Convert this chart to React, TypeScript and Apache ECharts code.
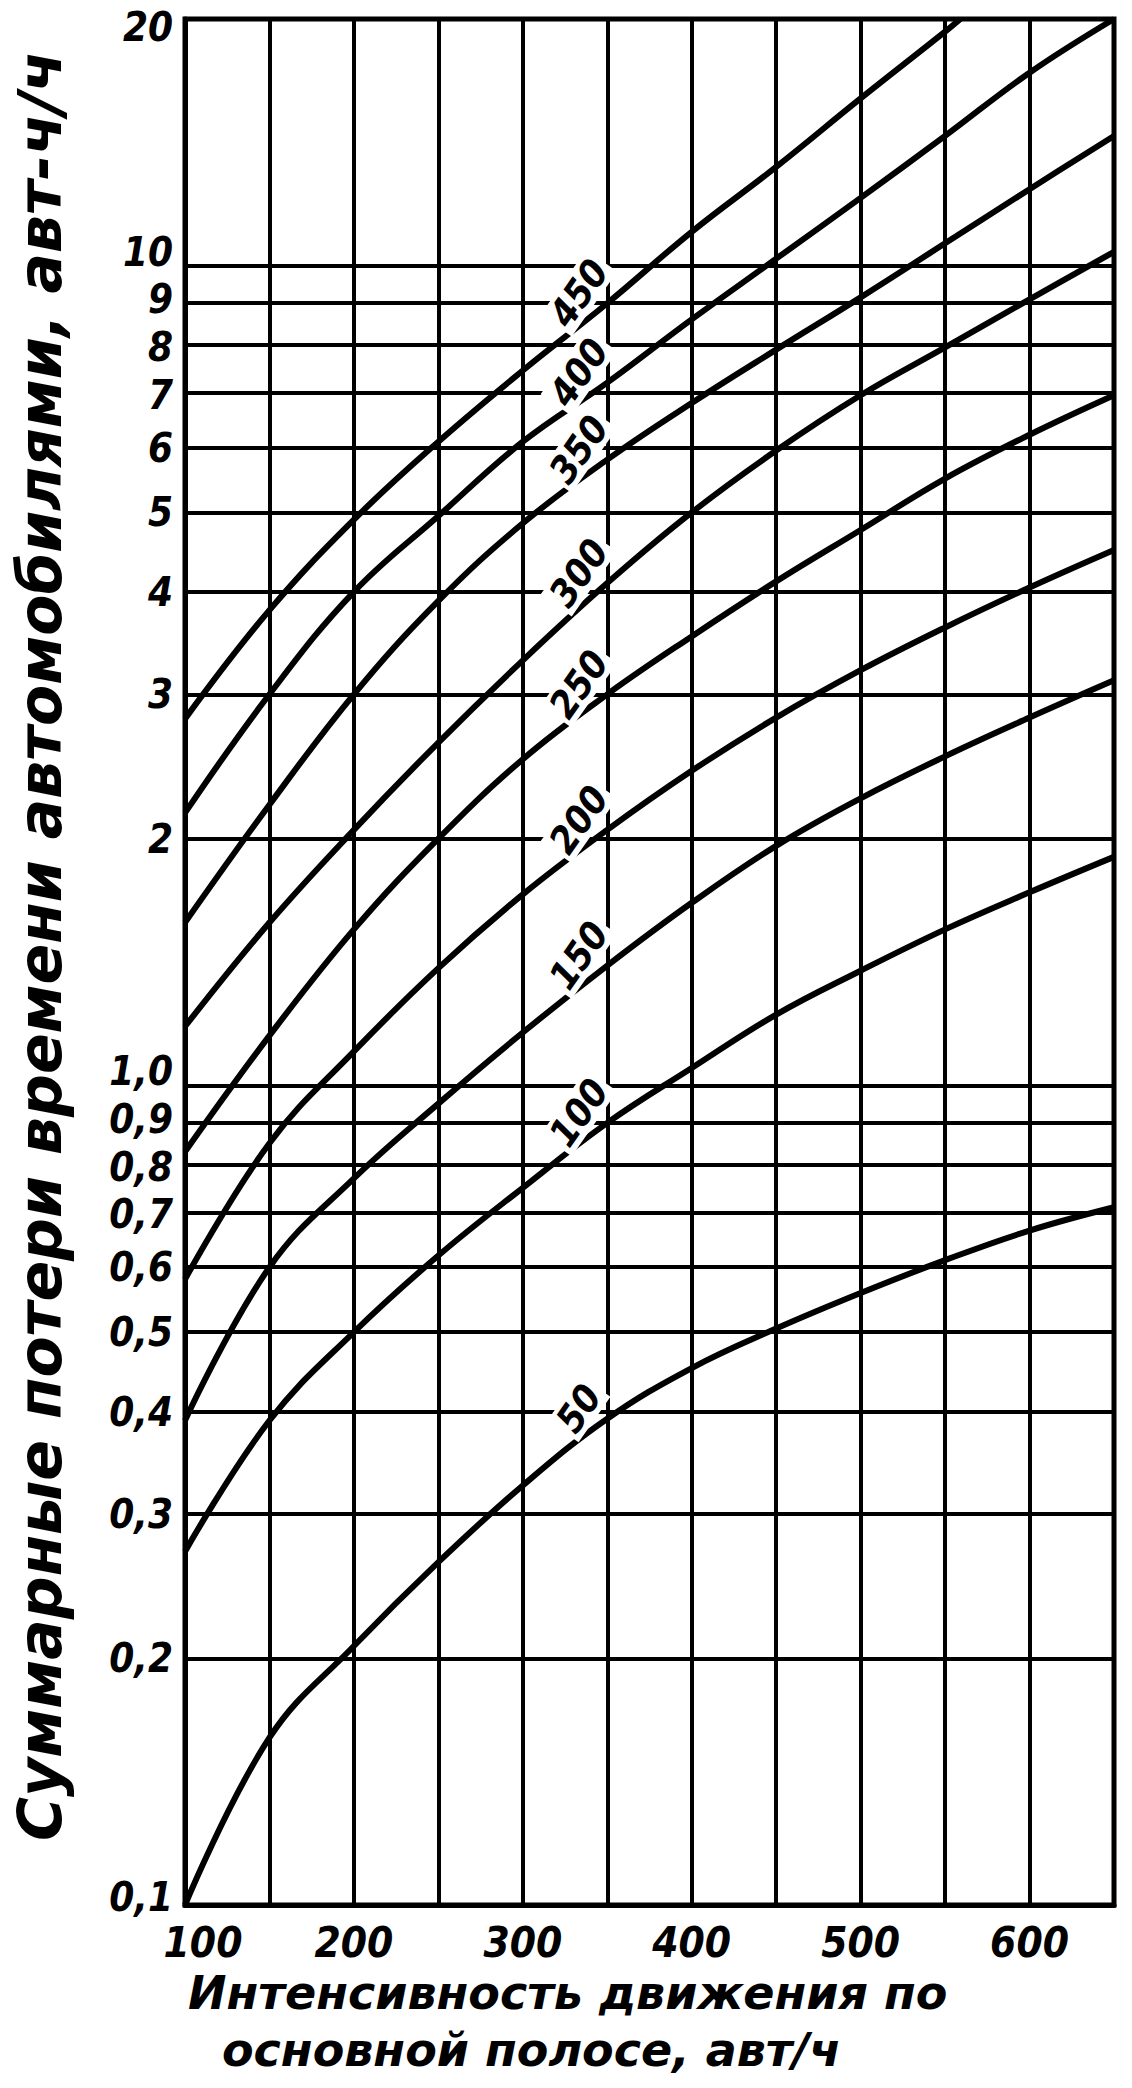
import React, { useEffect, useRef } from 'react';
import * as echarts from 'echarts';

// Intensity on the main lane, veh/h (x grid every 50)
const flowX = [100, 150, 200, 250, 300, 350, 400, 450, 500, 550, 600, 650];
// Curve parameters (labels of the curves)
const curveNames = ['50', '100', '150', '200', '250', '300', '350', '400', '450'];
// Total time losses, veh-h/h, read at each flowX
const loss50 = [0.1, 0.16, 0.207, 0.262, 0.325, 0.392, 0.452, 0.505, 0.558, 0.612, 0.665, 0.71];
const loss100 = [0.27, 0.39, 0.5, 0.62, 0.75, 0.9, 1.05, 1.22, 1.38, 1.55, 1.72, 1.9];
const loss150 = [0.39, 0.6, 0.77, 0.95, 1.16, 1.4, 1.67, 1.96, 2.24, 2.52, 2.81, 3.12];
const loss200 = [0.58, 0.85, 1.1, 1.39, 1.71, 2.05, 2.42, 2.81, 3.21, 3.62, 4.05, 4.5];
const loss250 = [0.83, 1.15, 1.55, 2.0, 2.5, 3.0, 3.53, 4.12, 4.76, 5.5, 6.22, 6.95];
const loss300 = [1.18, 1.58, 2.05, 2.62, 3.3, 4.1, 5.0, 5.95, 6.95, 7.95, 9.1, 10.4];
const loss350 = [1.58, 2.2, 3.0, 3.9, 4.85, 5.8, 6.8, 7.9, 9.15, 10.65, 12.4, 14.4];
const loss400 = [2.15, 3.0, 4.0, 4.95, 6.1, 7.2, 8.6, 10.2, 12.1, 14.4, 17.2, 20];
const loss450 = [2.8, 3.8, 4.9, 6.1, 7.45, 9.0, 11.0, 13.2, 16.0, 19.3, null, null];
// point where the 450 curve leaves the chart at the top
const exit450 = [559, 20];

const yTickValues = [0.1, 0.2, 0.3, 0.4, 0.5, 0.6, 0.7, 0.8, 0.9, 1, 2, 3, 4, 5, 6, 7, 8, 9, 10, 20];
const xLabelValues = [100, 200, 300, 400, 500, 600];
const labelAtX = 350;

const xTitle1 = 'Интенсивность движения по';
const xTitle2 = 'основной полосе, авт/ч';
const yTitle = 'Суммарные потери времени автомобилями, авт-ч/ч';

const NARROW = "'Liberation Sans Narrow', 'DejaVu Sans Condensed', 'Roboto Condensed', 'DejaVu Sans', sans-serif";
const WIDE = "'DejaVu Sans', 'Liberation Sans', 'Noto Sans', sans-serif";

const allLosses = [loss50, loss100, loss150, loss200, loss250, loss300, loss350, loss400, loss450];

function fmtY(v: number): string {
  let s: string;
  if (v < 0.999) s = v.toFixed(1).replace('.', ',');
  else if (Math.abs(v - 1) < 1e-6) s = '1,0';
  else s = String(Math.round(v));
  // the original's labels are hand-placed: some sit a little above or below their line
  if (s === '20') return '{dn8|' + s + '}';
  if (s === '10' || s === '1,0') return '{up14|' + s + '}';
  if (s === '9' || s === '0,9') return '{up4|' + s + '}';
  if (s === '8' || s === '0,8' || s === '7' || s === '0,7') return '{dn2|' + s + '}';
  if (s === '0,1') return '{up8|' + s + '}';
  return s;
}

function fmtX(v: number): string {
  if (v === 100) return '{first|100}';
  return String(v);
}

export default function App() {
  const ref = useRef<HTMLDivElement>(null);

  useEffect(() => {
    if (!ref.current) return;
    const chart = echarts.init(ref.current, undefined, { renderer: 'svg' });

    const tickFont = {
      color: '#000',
      fontFamily: NARROW,
      fontStyle: 'italic',
      fontWeight: 'bold',
    };
    const yFs = 40;

    const series = allLosses.map((vals, si) => {
      const name = curveNames[si];
      const data: any[] = [];
      vals.forEach((v, i) => {
        if (v == null) return;
        const x = flowX[i];
        if (x === labelAtX) {
          data.push({
            value: [x, v],
            symbol: 'circle',
            symbolSize: 1,
            itemStyle: { color: '#000' },
            label: {
              show: true,
              formatter: name,
              position: 'inside',
              rotate: 55,
              offset: [-8, -29],
              ...tickFont,
              fontSize: 38,
              backgroundColor: '#fff',
              padding: [0, 4, 0, 4],
            },
          });
        } else {
          data.push({ value: [x, v] });
        }
      });
      if (name === '450') data.push({ value: exit450 });
      return {
        type: 'line',
        name,
        smooth: 0.4,
        symbol: 'none',
        z: 3,
        lineStyle: { color: '#000', width: 6 },
        data,
      };
    });

    chart.setOption({
      animation: false,
      backgroundColor: '#fff',
      grid: {
        left: 185,
        right: 18,
        top: 19,
        bottom: 183,
        show: true,
        borderColor: '#000',
        borderWidth: 5,
        containLabel: false,
      },
      xAxis: {
        type: 'value',
        min: 100,
        max: 650,
        interval: 50,
        axisLine: { show: true, onZero: false, lineStyle: { color: '#000', width: 5 } },
        axisTick: { show: false },
        splitLine: { show: true, lineStyle: { color: '#000', width: 4 } },
        axisLabel: {
          customValues: xLabelValues,
          formatter: fmtX,
          ...tickFont,
          fontSize: 42,
          margin: 16,
          rich: {
            first: { ...tickFont, fontSize: 42, padding: [0, 0, 0, 36] },
          },
        },
      },
      yAxis: {
        type: 'log',
        logBase: 10,
        min: 0.1,
        max: 20,
        axisLine: { show: true, lineStyle: { color: '#000', width: 5 } },
        axisTick: { show: false, customValues: yTickValues },
        axisLabel: {
          customValues: yTickValues,
          formatter: (v: number) => fmtY(v),
          ...tickFont,
          fontSize: yFs,
          margin: 12,
          rich: {
            dn8: { ...tickFont, fontSize: yFs, padding: [16, 0, 0, 0] },
            up14: { ...tickFont, fontSize: yFs, padding: [0, 0, 28, 0] },
            up4: { ...tickFont, fontSize: yFs, padding: [0, 0, 8, 0] },
            dn2: { ...tickFont, fontSize: yFs, padding: [4, 0, 0, 0] },
            up8: { ...tickFont, fontSize: yFs, padding: [0, 0, 16, 0] },
          },
        },
        splitLine: { show: true, lineStyle: { color: '#000', width: 4 } },
        minorSplitLine: { show: false },
      },
      graphic: [
        {
          type: 'text',
          x: 40,
          y: 946,
          rotation: Math.PI / 2,
          style: {
            text: yTitle,
            fontFamily: WIDE,
            fontStyle: 'italic',
            fontWeight: 'bold',
            fontSize: 60,
            fill: '#000',
            align: 'center',
            verticalAlign: 'middle',
          },
        },
        {
          type: 'text',
          x: 188,
          y: 1993,
          style: {
            text: xTitle1,
            fontFamily: WIDE,
            fontStyle: 'italic',
            fontWeight: 'bold',
            fontSize: 46,
            fill: '#000',
            align: 'left',
            verticalAlign: 'middle',
          },
        },
        {
          type: 'text',
          x: 222,
          y: 2050,
          style: {
            text: xTitle2,
            fontFamily: WIDE,
            fontStyle: 'italic',
            fontWeight: 'bold',
            fontSize: 46,
            fill: '#000',
            align: 'left',
            verticalAlign: 'middle',
          },
        },
      ],
      series,
    });

    return () => {
      chart.dispose();
    };
  }, []);

  return (
    <div
      ref={ref}
      style={{ position: 'absolute', left: 0, top: 0, width: 1132, height: 2088, background: '#fff' }}
    />
  );
}
